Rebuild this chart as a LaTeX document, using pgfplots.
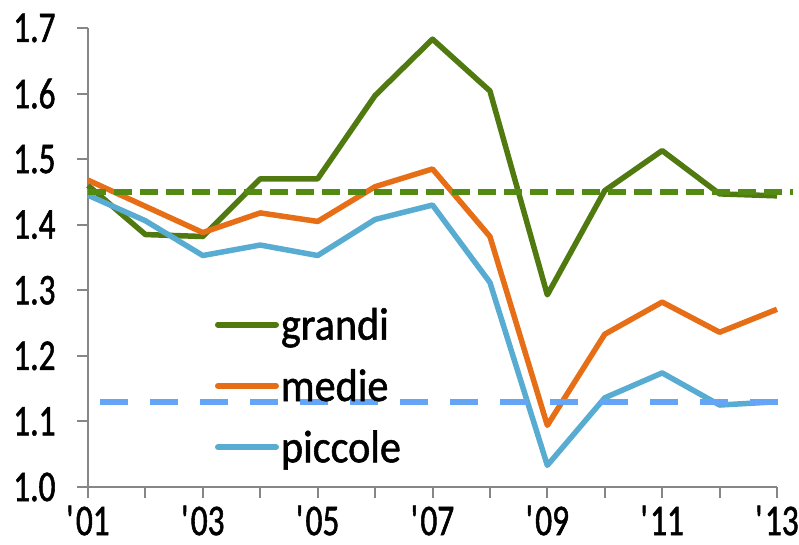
\documentclass[border=0pt]{standalone}
\usepackage{fontspec}
\setmainfont[FakeStretch=0.76,FakeBold=1.2]{Carlito}
\newfontfamily\legfont[FakeStretch=0.92,FakeBold=1.2]{Carlito}
\usepackage{pgfplots}
\pgfplotsset{compat=1.18}
\definecolor{cgr}{RGB}{80,122,16}
\definecolor{cgd}{RGB}{82,138,18}
\definecolor{cor}{RGB}{230,110,22}
\definecolor{clb}{RGB}{88,172,210}
\definecolor{cdb}{RGB}{100,165,245}
\definecolor{cax}{RGB}{134,134,134}
\newcommand{\q}{\textquotesingle}
\begin{document}
\begin{tikzpicture}
\begin{axis}[
  at={(88bp,58bp)}, anchor=south west,
  scale only axis, width=689bp, height=459bp,
  xmin=2001, xmax=2013, ymin=1.0, ymax=1.7,
  axis x line*=bottom, axis y line*=left,
  axis line style={cax, line width=2bp, -},
  xtick={2001,2003,...,2013},
  xticklabels={\q01,\q03,\q05,\q07,\q09,\q11,\q13},
  minor xtick={2002,2004,...,2012},
  ytick={1.0,1.1,...,1.7},
  yticklabel style={/pgf/number format/fixed, /pgf/number format/fixed zerofill, /pgf/number format/precision=1, xshift=-18bp},
  /pgf/number format/assume math mode=true,
  xtick align=outside, ytick align=outside,
  major tick style={draw=cax, line width=2bp},
  minor tick style={draw=cax, line width=2bp},
  major tick length=11bp, minor tick length=11bp,
  ticklabel style={font=\fontsize{44}{46}\selectfont, text=black},
  xticklabel style={yshift=-4bp},
  legend style={draw=none, fill=none, at={(0.184,0.395)}, anchor=north west,
    font=\legfont\fontsize{46}{48}\selectfont, row sep=24bp, inner sep=0pt},
  legend cell align=left,
  legend image code/.code={\draw[#1, line cap=round, line width=6bp] (0bp,0bp) -- (58bp,0bp);},
  clip=false,
]
\addplot[cgr, line width=5.5bp, line join=round] coordinates {
(2001,1.460) (2002,1.385) (2003,1.382) (2004,1.470) (2005,1.470) (2006,1.597)
(2007,1.683) (2008,1.604) (2009,1.293) (2010,1.452) (2011,1.513) (2012,1.447) (2013,1.444)};
\addlegendentry{grandi}
\addplot[cor, line width=5.5bp, line join=round] coordinates {
(2001,1.468) (2002,1.428) (2003,1.388) (2004,1.418) (2005,1.405) (2006,1.458)
(2007,1.485) (2008,1.382) (2009,1.094) (2010,1.233) (2011,1.282) (2012,1.236) (2013,1.271)};
\addlegendentry{medie}
\addplot[clb, line width=5.5bp, line join=round] coordinates {
(2001,1.445) (2002,1.406) (2003,1.353) (2004,1.369) (2005,1.353) (2006,1.408)
(2007,1.430) (2008,1.312) (2009,1.033) (2010,1.136) (2011,1.174) (2012,1.125) (2013,1.130)};
\addlegendentry{piccole}
\addplot[cgd, line width=6.5bp, dash pattern=on 18bp off 8bp, forget plot] coordinates {(2001.0,1.450) (2013.28,1.450)};
\addplot[cdb, line width=5.5bp, dash pattern=on 28bp off 22bp, dash phase=-12bp, forget plot] coordinates {(2001,1.130) (2013.05,1.130)};
\end{axis}
\pgfresetboundingbox
\path[use as bounding box] (0,0) rectangle (799bp,545bp);
\end{tikzpicture}
\end{document}
